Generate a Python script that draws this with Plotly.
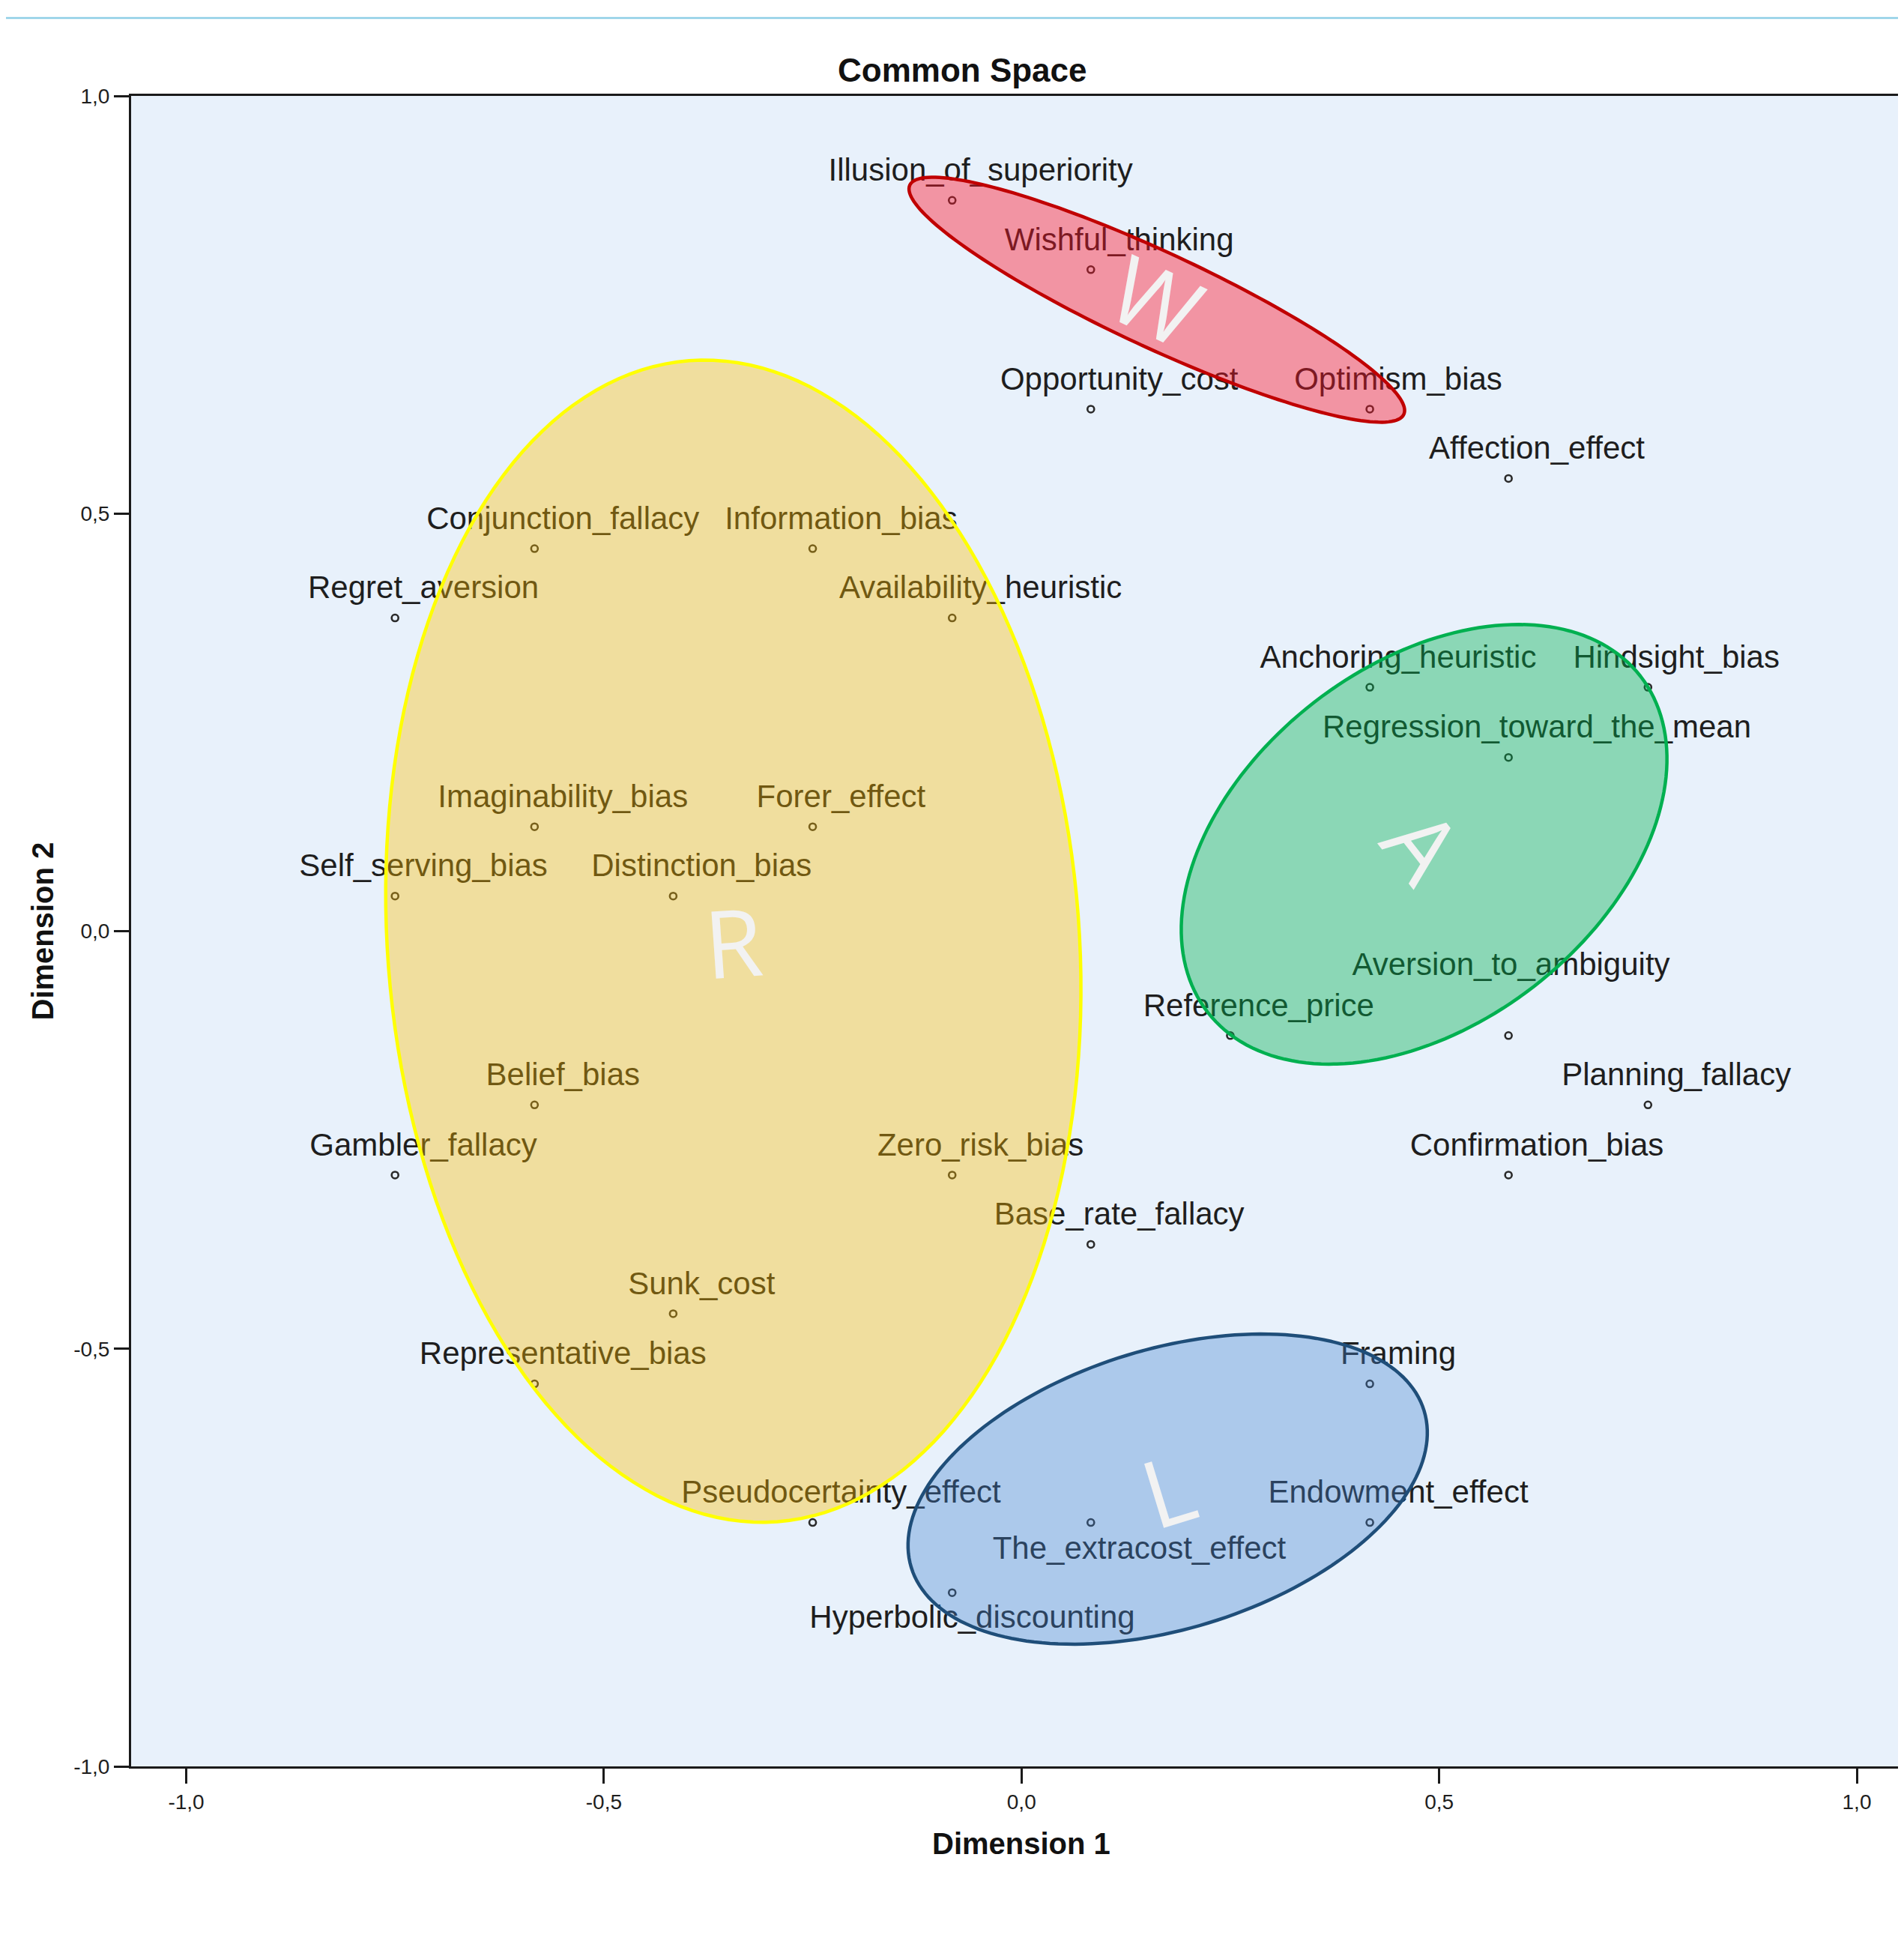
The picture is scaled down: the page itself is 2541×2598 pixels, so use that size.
import numpy as np
import plotly.graph_objects as go

# ---------------- data ----------------
BIASES = [
    "Illusion_of_superiority", "Wishful_thinking", "Opportunity_cost", "Optimism_bias",
    "Affection_effect", "Conjunction_fallacy", "Information_bias", "Regret_aversion",
    "Availability_heuristic", "Anchoring_heuristic", "Hindsight_bias",
    "Regression_toward_the_mean", "Imaginability_bias", "Forer_effect",
    "Self_serving_bias", "Distinction_bias", "Reference_price", "Aversion_to_ambiguity",
    "Belief_bias", "Planning_fallacy", "Gambler_fallacy", "Zero_risk_bias",
    "Confirmation_bias", "Base_rate_fallacy", "Sunk_cost", "Representative_bias",
    "Framing", "Pseudocertainty_effect", "Endowment_effect", "Hyperbolic_discounting",
    "The_extracost_effect",
]
DIM1 = [
    -0.083, 0.083, 0.083, 0.417,
    0.583, -0.583, -0.250, -0.750,
    -0.083, 0.417, 0.750,
    0.583, -0.583, -0.250,
    -0.750, -0.417, 0.250, 0.583,
    -0.583, 0.750, -0.750, -0.083,
    0.583, 0.083, -0.417, -0.583,
    0.417, -0.250, 0.417, -0.083,
    0.083,
]
DIM2 = [
    0.875, 0.792, 0.625, 0.625,
    0.542, 0.458, 0.458, 0.375,
    0.375, 0.292, 0.292,
    0.208, 0.125, 0.125,
    0.042, 0.042, -0.125, -0.125,
    -0.208, -0.208, -0.292, -0.292,
    -0.292, -0.375, -0.458, -0.542,
    -0.542, -0.708, -0.708, -0.792,
    -0.708,
]

# clusters drawn as ellipses (centre, semi-axes, rotation of major axis in degrees)
CLUSTER_LETTERS = ["W", "A", "R", "L"]
CLUSTER_CX = [0.162, 0.482, -0.345, 0.175]
CLUSTER_CY = [0.756, 0.104, -0.012, -0.668]
CLUSTER_SEMI_MAJOR = [0.326, 0.328, 0.697, 0.321]
CLUSTER_SEMI_MINOR = [0.057, 0.215, 0.414, 0.1675]
CLUSTER_ANGLE = [-24.9, 37.8, 94.35, 17.0]

X_TICKS = [-1.0, -0.5, 0.0, 0.5, 1.0]
X_TICK_TEXT = ["-1,0", "-0,5", "0,0", "0,5", "1,0"]
Y_TICKS = [-1.0, -0.5, 0.0, 0.5, 1.0]
Y_TICK_TEXT = ["-1,0", "-0,5", "0,0", "0,5", "1,0"]

# ---------------- styles / layout ----------------
PAGE_OFF = 8                      # default body margin of the html page
W, H = 2541 - 2 * PAGE_OFF, 2598 - 2 * PAGE_OFF
PLOT_L, PLOT_T, PLOT_B = 175, 128, 2357   # plot area edges on the page
ML = PLOT_L - PAGE_OFF
MT = PLOT_T - PAGE_OFF
MR = 0
MB = H - (PLOT_B - PAGE_OFF)
PLOT_R = PAGE_OFF + W
# x range chosen so that -1 and 1 sit at page x 248.5 and 2478
PX_PER_UNIT = (2478 - 248.5) / 2.0
XR = [-1 - (248.5 - PLOT_L) / PX_PER_UNIT, 1 + (PLOT_R - 2478) / PX_PER_UNIT]
YR = [-1.0, 1.0]
FONT = "Liberation Sans, Arial, sans-serif"
INK = "#1e1e1e"

CLUSTER_FILL = ["rgba(255,20,40,0.42)", "rgba(0,178,80,0.40)",
                "rgba(255,190,0,0.37)", "rgba(66,129,208,0.36)"]
CLUSTER_LINE = ["#C00000", "#00B050", "#FFFF00", "#1F4E79"]
CLUSTER_LETTER_ANGLE = [25, 52, -4, -17]

DEFAULT_OFFSET = (0.034, 0.033)
LABEL_OFFSET = {
    "Aversion_to_ambiguity": (0.003, 0.082),
    "Hyperbolic_discounting": (0.024, -0.033),
    "The_extracost_effect": (0.058, -0.034),
}

lab_x, lab_y = [], []
for name, x, y in zip(BIASES, DIM1, DIM2):
    dx, dy = LABEL_OFFSET.get(name, DEFAULT_OFFSET)
    lab_x.append(x + dx)
    lab_y.append(y + dy)

fig = go.Figure()
fig.add_trace(go.Scatter(
    x=DIM1, y=DIM2, mode="markers",
    marker=dict(symbol="circle-open", size=9, color="#2a2a2a", line=dict(width=2.6, color="#2a2a2a")),
    hoverinfo="text", text=BIASES, showlegend=False,
))
fig.add_trace(go.Scatter(
    x=lab_x, y=lab_y, mode="text", text=BIASES, textposition="middle center",
    textfont=dict(family=FONT, size=42, color=INK), hoverinfo="skip", showlegend=False,
))


def ellipse_path(cx, cy, a, b, ang_deg, n=180):
    t = np.linspace(0, 2 * np.pi, n, endpoint=False)
    th = np.deg2rad(ang_deg)
    xs = cx + a * np.cos(t) * np.cos(th) - b * np.sin(t) * np.sin(th)
    ys = cy + a * np.cos(t) * np.sin(th) + b * np.sin(t) * np.cos(th)
    pts = [f"{xx:.5f},{yy:.5f}" for xx, yy in zip(xs, ys)]
    return "M" + " L".join(pts) + " Z"


shapes = []
annotations = []
for i, letter in enumerate(CLUSTER_LETTERS):
    shapes.append(dict(
        type="path", xref="x", yref="y", layer="above",
        path=ellipse_path(CLUSTER_CX[i], CLUSTER_CY[i], CLUSTER_SEMI_MAJOR[i],
                          CLUSTER_SEMI_MINOR[i], CLUSTER_ANGLE[i]),
        fillcolor=CLUSTER_FILL[i], line=dict(color=CLUSTER_LINE[i], width=4.5),
    ))
    annotations.append(dict(
        x=CLUSTER_CX[i], y=CLUSTER_CY[i], xref="x", yref="y", text=letter,
        showarrow=False, textangle=CLUSTER_LETTER_ANGLE[i], xanchor="center", yanchor="middle",
        font=dict(family="Open Sans, Lato, sans-serif", size=125, color="#F2F2F2"),
    ))

pw = W - ML - MR
ph = H - MT - MB


def page_x(px):
    return (px - PLOT_L) / pw


def page_y(py):
    return (PLOT_B - py) / ph


# thin light-blue rule at very top of the page
shapes.append(dict(type="line", xref="paper", yref="paper", x0=page_x(PAGE_OFF), x1=1.0,
                   y0=page_y(24), y1=page_y(24),
                   line=dict(color="#8ECFE6", width=2.5), layer="above"))

annotations.append(dict(text="<b>Common Space</b>", xref="paper", yref="paper",
                        x=page_x(1284), y=page_y(94), showarrow=False,
                        xanchor="center", yanchor="middle",
                        font=dict(family=FONT, size=44, color="#111111")))
annotations.append(dict(text="<b>Dimension 1</b>", xref="x", yref="paper",
                        x=0.0, y=page_y(2460), showarrow=False,
                        xanchor="center", yanchor="middle",
                        font=dict(family=FONT, size=40, color="#111111")))
annotations.append(dict(text="<b>Dimension 2</b>", xref="paper", yref="y",
                        x=page_x(56), y=0.0, showarrow=False, textangle=-90,
                        xanchor="center", yanchor="middle",
                        font=dict(family=FONT, size=40, color="#111111")))

axis_common = dict(
    showgrid=False, zeroline=False, showline=True, linecolor="#1a1a1a", linewidth=3,
    ticks="outside", ticklen=20, tickwidth=3, tickcolor="#1a1a1a",
    tickfont=dict(family=FONT, size=28, color=INK),
)
fig.update_layout(
    width=W, height=H, autosize=False,
    margin=dict(l=ML, r=MR, t=MT, b=MB, pad=0),
    paper_bgcolor="white", plot_bgcolor="#E8F1FB",
    xaxis=dict(range=XR, tickvals=X_TICKS, ticktext=X_TICK_TEXT, mirror=True, **axis_common),
    yaxis=dict(range=YR, tickvals=Y_TICKS, ticktext=Y_TICK_TEXT, mirror=False, **axis_common),
    shapes=shapes, annotations=annotations, showlegend=False,
)

fig.write_html("out.html")
